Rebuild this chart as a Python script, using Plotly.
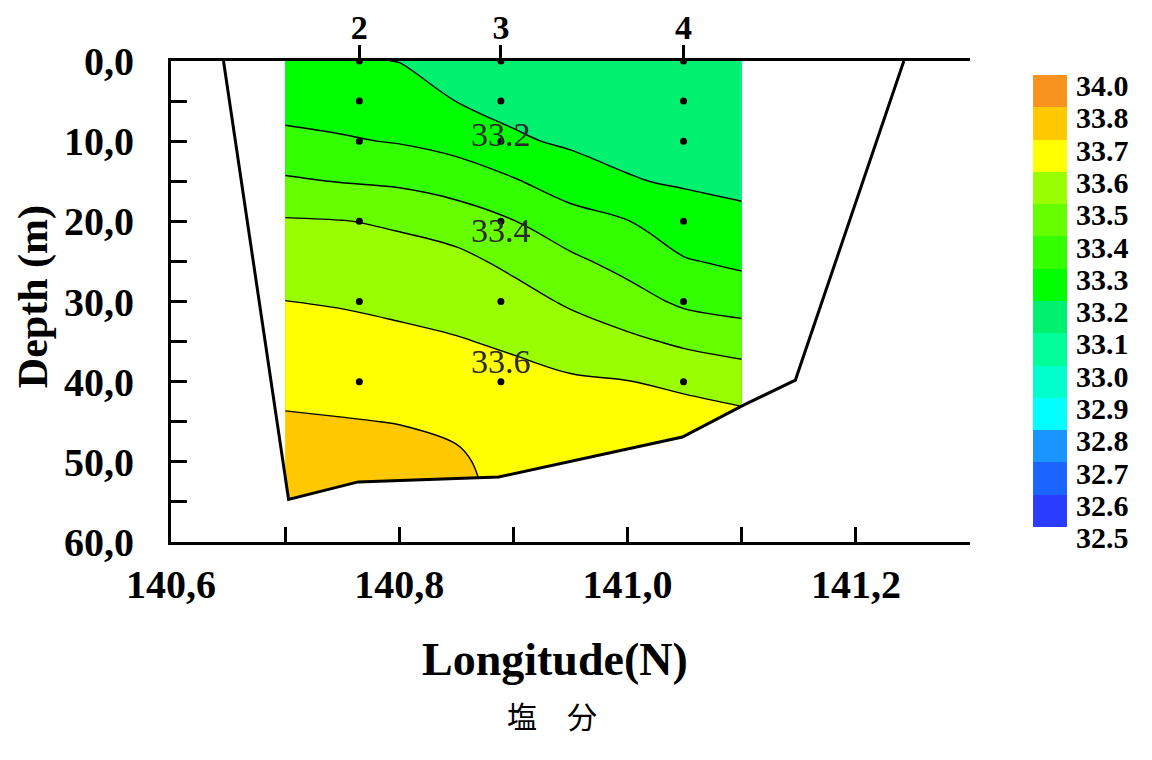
import plotly.graph_objects as go

# ---------------- data ----------------
depth_levels = [0, 5, 10, 15, 20, 25, 30, 35, 40, 45, 50, 55]
grid_lon = [140.70, 140.75, 140.80, 140.85, 140.90, 140.95, 141.00, 141.05, 141.10]
sal_14070 = [33.220, 33.265, 33.323, 33.413, 33.509, 33.555, 33.601, 33.637, 33.673, 33.710, 33.735, 33.760]
sal_14075 = [33.210, 33.257, 33.309, 33.396, 33.503, 33.548, 33.593, 33.631, 33.669, 33.704, 33.730, 33.750]
sal_14080 = [33.198, 33.246, 33.294, 33.383, 33.487, 33.537, 33.580, 33.620, 33.659, 33.698, 33.725, 33.745]
sal_14085 = [33.150, 33.199, 33.268, 33.351, 33.456, 33.525, 33.566, 33.606, 33.643, 33.681, 33.715, 33.730]
sal_14090 = [33.140, 33.172, 33.213, 33.309, 33.403, 33.478, 33.536, 33.587, 33.626, 33.645, 33.660, 33.670]
sal_14095 = [33.130, 33.158, 33.186, 33.250, 33.340, 33.420, 33.487, 33.553, 33.612, 33.640, 33.655, 33.665]
sal_14100 = [33.125, 33.150, 33.176, 33.206, 33.303, 33.367, 33.440, 33.520, 33.603, 33.630, 33.645, 33.655]
sal_14105 = [33.120, 33.144, 33.168, 33.190, 33.243, 33.307, 33.381, 33.484, 33.575, 33.655, 33.665, 33.670]
sal_14110 = [33.115, 33.138, 33.158, 33.175, 33.225, 33.282, 33.357, 33.459, 33.552, 33.630, 33.645, 33.655]

station_names = ["2", "3", "4"]
station_lon = [140.765, 140.889, 141.049]
sample_depths = [0, 5, 10, 20, 30, 40]

bottom_lon = [140.646, 140.703, 140.764, 140.887, 141.048, 141.102, 141.147, 141.242]
bottom_depth = [0, 54.7, 52.5, 51.9, 46.9, 42.9, 39.8, 0]

contour_label_text = ["33.2", "33.4", "33.6"]
contour_label_depth = [9.2, 21.1, 37.5]

lon_range = [140.6, 141.3]
depth_range = [60, 0]
lon_ticks = [140.6, 140.7, 140.8, 140.9, 141.0, 141.1, 141.2, 141.3]
lon_tick_text = ["140,6", "", "140,8", "", "141,0", "", "141,2", ""]
depth_ticks = [0, 5, 10, 15, 20, 25, 30, 35, 40, 45, 50, 55, 60]
depth_tick_text = ["0,0", "", "10,0", "", "20,0", "", "30,0", "", "40,0", "", "50,0", "", "60,0"]

# colour key: bands bottom -> top (32.5-32.6 ... 33.8-34.0)
band_colors = ["#2a3cff", "#1c64ff", "#1a94ff", "#00ffff", "#00ffcc", "#00ff99",
               "#00f070", "#00ff00", "#33ff00", "#66ff00", "#99ff00", "#ffff00",
               "#ffc800", "#f7931e"]
band_labels = ["32.5", "32.6", "32.7", "32.8", "32.9", "33.0", "33.1", "33.2",
               "33.3", "33.4", "33.5", "33.6", "33.7", "33.8", "34.0"]

# ---------------- build ----------------
cols = [sal_14070, sal_14075, sal_14080, sal_14085, sal_14090,
        sal_14095, sal_14100, sal_14105, sal_14110]
z = [list(r) for r in zip(*cols)]

# contour fill colour scale: 16 bins (bg + 15 bands of 0.1 from 32.5 to 34.0)
bin_colors = [band_colors[0]] + band_colors[:13] + [band_colors[13], band_colors[13]]
nb = len(bin_colors)
edges = [0.0] + [(k + 0.5) / nb for k in range(nb - 1)] + [1.0]
cscale = []
for k, c in enumerate(bin_colors):
    cscale.append([edges[k], c])
    cscale.append([edges[k + 1], c])

serif = "Liberation Serif"
x_rng = [lon_range[0], lon_range[1] + 1e-6]

fig = go.Figure()

fig.add_trace(go.Contour(
    x=grid_lon, y=depth_levels, z=z,
    contours=dict(start=32.5, end=34.0, size=0.1, coloring="fill", showlines=True),
    line=dict(color="black", width=1.4, smoothing=1.0),
    colorscale=cscale, showscale=False, hoverinfo="skip",
    xaxis="x", yaxis="y",
))

# white mask outside the section (below the sea floor)
mask_x = [lon_range[0]] + bottom_lon + [lon_range[1], lon_range[1], lon_range[0]]
mask_y = [depth_range[1]] + bottom_depth + [depth_range[1], depth_range[0], depth_range[0]]
fig.add_trace(go.Scatter(x=mask_x, y=mask_y, fill="toself", fillcolor="white",
                         mode="lines", line=dict(width=0, color="white"),
                         hoverinfo="skip", showlegend=False))

fig.add_trace(go.Scatter(x=bottom_lon, y=bottom_depth, mode="lines",
                         line=dict(color="black", width=3), hoverinfo="skip",
                         showlegend=False))

dot_x = [lon for lon in station_lon for _ in sample_depths]
dot_y = [d for _ in station_lon for d in sample_depths]
fig.add_trace(go.Scatter(x=dot_x, y=dot_y, mode="markers",
                         marker=dict(color="black", size=7), hoverinfo="skip",
                         showlegend=False, xaxis="x2", yaxis="y"))

# colour key as its own small heatmap
ncb = len(band_colors)
fig.add_trace(go.Heatmap(
    x=[0], y=list(range(ncb)),
    z=[[k] for k in range(ncb)],
    colorscale=[[(i + j) / ncb, c] for i, c in enumerate(band_colors) for j in (0, 1)],
    zmin=-0.5, zmax=ncb - 0.5, showscale=False, hoverinfo="skip",
    xaxis="x3", yaxis="y3",
))

annotations = []
for txt, d in zip(contour_label_text, contour_label_depth):
    annotations.append(dict(x=station_lon[1], y=d, xref="x", yref="y", text=txt,
                            showarrow=False, xanchor="center", yanchor="middle",
                            font=dict(family=serif, size=34, color="#2a2a2a")))
annotations.append(dict(x=0.396, y=-0.245, xref="paper", yref="paper",
                        text="Longitude(N)", showarrow=False,
                        xanchor="center", yanchor="middle",
                        font=dict(family=serif, size=46, color="black", weight=700)))
annotations.append(dict(x=-0.1424, y=0.509, xref="paper", yref="paper",
                        text="Depth (m)", showarrow=False, textangle=-90,
                        xanchor="center", yanchor="middle",
                        font=dict(family=serif, size=42, color="black", weight=700)))
annotations.append(dict(x=0.3927, y=-0.36, xref="paper", yref="paper",
                        text="塩　分", showarrow=False,
                        xanchor="center", yanchor="middle",
                        font=dict(family="Noto Sans CJK JP", size=30, color="black")))

tickfont = dict(family=serif, size=40, color="black", weight=700)

fig.update_layout(
    width=1152, height=760,
    margin=dict(l=163, r=20, t=53, b=226, autoexpand=False),
    paper_bgcolor="white", plot_bgcolor="white",
    showlegend=False,
    xaxis=dict(domain=[0, 0.8246], range=x_rng, anchor="y", automargin=False,
               tickvals=lon_ticks, ticktext=lon_tick_text, ticks="inside",
               ticklen=15, tickwidth=3, tickcolor="black", showline=True,
               linewidth=3, linecolor="black", showgrid=False, zeroline=False,
               tickfont=tickfont, ticklabelstandoff=5),
    xaxis2=dict(domain=[0, 0.8246], range=x_rng, anchor="y", overlaying="x",
                side="top", tickvals=station_lon, ticktext=station_names,
                automargin=False,
                ticks="outside", ticklen=13, tickwidth=3, tickcolor="black",
                showline=True, linewidth=3, linecolor="black", showgrid=False,
                zeroline=False, ticklabelstandoff=-8,
                tickfont=dict(family=serif, size=34, color="black", weight=700)),
    yaxis=dict(domain=[0, 1], range=depth_range, anchor="x", automargin=False,
               tickvals=depth_ticks, ticktext=depth_tick_text, ticks="inside",
               ticklen=16, tickwidth=3, tickcolor="black", showline=True,
               linewidth=3, linecolor="black", showgrid=False, zeroline=False,
               tickfont=tickfont, ticklabelstandoff=26),
    xaxis3=dict(domain=[0.8896, 0.9247], range=[-0.5, 0.5], anchor="y3",
                visible=False, automargin=False),
    yaxis3=dict(domain=[0.0042, 0.9709], range=[-0.9, ncb - 0.5], anchor="x3",
                side="right", tickvals=[k - 0.5 - 0.33 for k in range(ncb + 1)],
                ticktext=band_labels, ticks="", showline=False, showgrid=False,
                zeroline=False, ticklabelstandoff=8, automargin=False,
                tickfont=dict(family=serif, size=30, color="black", weight=700)),
    annotations=annotations,
)

fig.write_html("out.html")
